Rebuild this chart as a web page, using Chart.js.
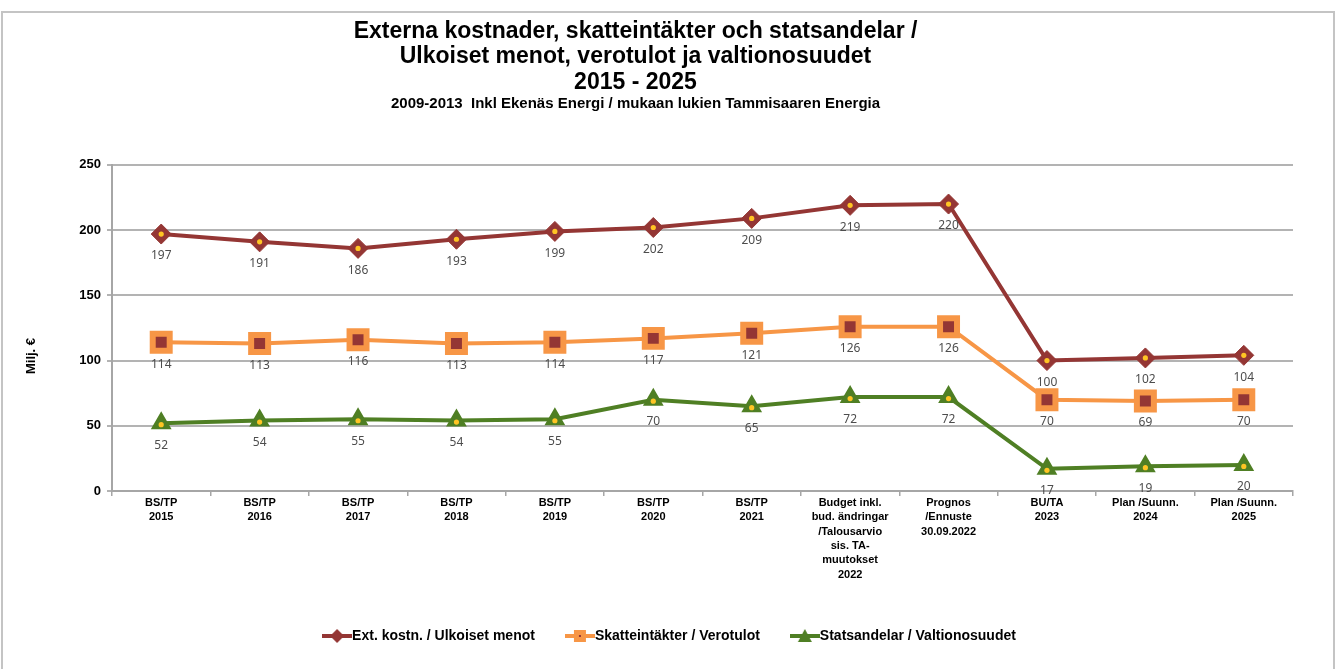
<!DOCTYPE html>
<html>
<head>
<meta charset="utf-8">
<script src="https://cdn.jsdelivr.net/npm/chart.js@4"></script>
<style>
  html, body { margin: 0; padding: 0; background: #fff; }
  #wrap { position: relative; width: 1336px; height: 669px; }
  #frame { position: absolute; left: 1px; top: 11px; width: 1330px; height: 670px;
           border: 2px solid #c4c4c4; pointer-events: none; }
</style>
</head>
<body>
<div id="wrap">
  <canvas id="chart"></canvas>
  <div id="frame"></div>
</div>
<script>
const categories = [
    ['BS/TP', '2015'],
    ['BS/TP', '2016'],
    ['BS/TP', '2017'],
    ['BS/TP', '2018'],
    ['BS/TP', '2019'],
    ['BS/TP', '2020'],
    ['BS/TP', '2021'],
    ['Budget inkl.', 'bud. ändringar', '/Talousarvio', 'sis. TA-', 'muutokset', '2022'],
    ['Prognos', '/Ennuste', '30.09.2022'],
    ['BU/TA', '2023'],
    ['Plan /Suunn.', '2024'],
    ['Plan /Suunn.', '2025']
];

const extCosts = [197, 191, 186, 193, 199, 202, 209, 219, 220, 100, 102, 104];
const taxIncome = [114, 113, 116, 113, 114, 117, 121, 126, 126, 70, 69, 70];
const stateGrants = [52, 54, 55, 54, 55, 70, 65, 72, 72, 17, 19, 20];

const seriesNames = [
    'Ext. kostn. / Ulkoiset menot',
    'Skatteintäkter / Verotulot',
    'Statsandelar / Valtionosuudet'
];

const RED = '#943634';
const ORANGE = '#F79646';
const GREEN = '#4F7F24';
const DOT = '#FFC524';
const FONT = "'Liberation Sans', Arial, sans-serif";

// small line+marker pictures for the legend
function legendSymbol(color, style, fill) {
    const c = document.createElement('canvas');
    c.width = 30;
    c.height = 18;
    const g = c.getContext('2d');
    g.strokeStyle = color;
    g.lineWidth = 4;
    g.beginPath();
    g.moveTo(0, 9);
    g.lineTo(30, 9);
    g.stroke();
    g.fillStyle = fill || color;
    g.beginPath();
    if (style === 'diamond') {
        g.moveTo(15, 2); g.lineTo(22, 9); g.lineTo(15, 16); g.lineTo(8, 9);
        g.closePath();
        g.fill();
    } else if (style === 'square') {
        g.fillStyle = color;
        g.fillRect(9, 3, 12, 12);
        g.fillStyle = fill;
        g.fillRect(14, 8, 2, 2);
    } else {
        g.moveTo(15, 2); g.lineTo(22, 15); g.lineTo(8, 15);
        g.closePath();
        g.fill();
    }
    return c;
}

const legendSymbols = [
    legendSymbol(RED, 'diamond'),
    legendSymbol(ORANGE, 'square', RED),
    legendSymbol(GREEN, 'triangle')
];

// value labels under the points and the yellow centre dots
const pointDecor = {
    id: 'pointDecor',
    afterDatasetDraw(chart, args) {
        const ctx = chart.ctx;
        const ds = chart.data.datasets[args.index];
        ctx.save();
        args.meta.data.forEach((pt, i) => {
            if (ds.pointStyle !== 'rect') {
                ctx.fillStyle = DOT;
                ctx.beginPath();
                ctx.arc(pt.x, pt.y + (ds.pointStyle === 'triangle' ? 1.5 : 0), 2.6, 0, Math.PI * 2);
                ctx.fill();
            }
            ctx.fillStyle = '#4d4d4d';
            ctx.font = "12px 'Noto Sans', sans-serif";
            ctx.textAlign = 'center';
            ctx.textBaseline = 'middle';
            ctx.fillText(String(ds.data[i]), pt.x, pt.y + 22);
        });
        ctx.restore();
    }
};

// y axis caption sits a bit below the middle of the plot, as in the original
const yCaption = {
    id: 'yCaption',
    afterDraw(chart) {
        const ctx = chart.ctx;
        ctx.save();
        ctx.translate(31, 356);
        ctx.rotate(-Math.PI / 2);
        ctx.fillStyle = '#000';
        ctx.font = 'bold 13px ' + FONT;
        ctx.textAlign = 'center';
        ctx.textBaseline = 'middle';
        ctx.fillText('Milj. €', 0, 0);
        ctx.restore();
    }
};

// titles are centred a little left of the plot, the legend a little right
const boxShift = {
    id: 'boxShift',
    afterLayout(chart) {
        chart.boxes.forEach(box => {
            if (box === chart.legend) {
                box.left += 15;
                box.right += 15;
            } else if (box.position === 'top') {
                box.left -= 22;
                box.right -= 22;
            }
        });
    }
};

const ctx = document.getElementById('chart').getContext('2d');
new Chart(ctx, {
    type: 'line',
    data: {
        labels: categories,
        datasets: [
            {
                label: seriesNames[0],
                data: extCosts,
                borderColor: RED,
                backgroundColor: RED,
                borderWidth: 4,
                pointStyle: 'rectRot',
                pointRadius: 10,
                pointBackgroundColor: RED,
                pointBorderColor: RED,
                pointBorderWidth: 1
            },
            {
                label: seriesNames[1],
                data: taxIncome,
                borderColor: ORANGE,
                backgroundColor: ORANGE,
                borderWidth: 4,
                pointStyle: 'rect',
                pointRadius: 12,
                pointBackgroundColor: RED,
                pointBorderColor: ORANGE,
                pointBorderWidth: 6
            },
            {
                label: seriesNames[2],
                data: stateGrants,
                borderColor: GREEN,
                backgroundColor: GREEN,
                borderWidth: 4,
                pointStyle: 'triangle',
                pointRadius: 10,
                pointBackgroundColor: GREEN,
                pointBorderColor: GREEN,
                pointBorderWidth: 2
            }
        ]
    },
    options: {
        responsive: true,
        maintainAspectRatio: false,
        animation: false,
        layout: {
            padding: { left: 22, right: 43, top: 0, bottom: 16 }
        },
        plugins: {
            title: {
                display: true,
                text: [
                    'Externa kostnader, skatteintäkter och statsandelar /',
                    'Ulkoiset menot, verotulot ja valtionosuudet',
                    '2015 - 2025'
                ],
                color: '#000',
                font: { family: FONT, size: 23, weight: 'bold', lineHeight: 1.1 },
                padding: { top: 19, bottom: 0 }
            },
            subtitle: {
                display: true,
                text: '2009-2013  Inkl Ekenäs Energi / mukaan lukien Tammisaaren Energia',
                color: '#000',
                font: { family: FONT, size: 15, weight: 'bold', lineHeight: 1.2 },
                padding: { top: 0, bottom: 52 }
            },
            legend: {
                position: 'bottom',
                labels: {
                    usePointStyle: true,
                    pointStyleWidth: 16,
                    color: '#000',
                    padding: 37,
                    font: { family: FONT, size: 14, weight: 'bold' },
                    generateLabels(chart) {
                        const items = Chart.defaults.plugins.legend.labels.generateLabels(chart);
                        items.forEach((it, i) => { it.pointStyle = legendSymbols[i]; });
                        return items;
                    }
                }
            },
            tooltip: { enabled: false }
        },
        scales: {
            x: {
                offset: true,
                grid: {
                    offset: true,
                    drawOnChartArea: false,
                    drawTicks: true,
                    tickLength: 5,
                    color: '#a6a6a6',
                    lineWidth: 1.5
                },
                border: { color: '#a6a6a6', width: 2 },
                ticks: {
                    color: '#000',
                    maxRotation: 0,
                    autoSkip: false,
                    padding: 0,
                    font: { family: FONT, size: 11, weight: 'bold', lineHeight: 1.3 }
                },
                afterFit(scale) { scale.height = 101; }
            },
            y: {
                min: 0,
                max: 250,
                ticks: {
                    stepSize: 50,
                    color: '#000',
                    padding: 6,
                    font: { family: FONT, size: 13, weight: 'bold' }
                },
                grid: {
                    color: '#b3b3b3',
                    lineWidth: 2,
                    tickLength: 5
                },
                border: { color: '#a6a6a6', width: 2 },
                afterFit(scale) { scale.width = 112 - 22; }
            }
        }
    },
    plugins: [pointDecor, yCaption, boxShift]
});
</script>
</body>
</html>
